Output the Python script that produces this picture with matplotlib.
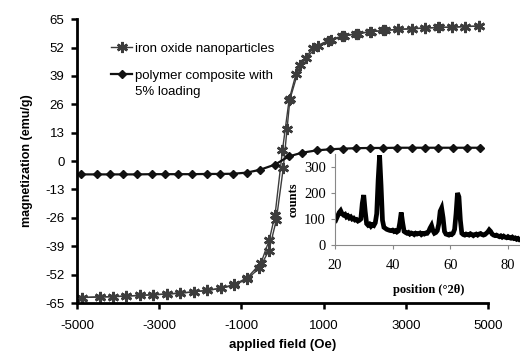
import numpy as np
import matplotlib
import matplotlib.pyplot as plt

matplotlib.use("agg")
plt.rcParams["font.family"] = "Liberation Sans"
plt.rcParams["axes.unicode_minus"] = False

# iron oxide nanoparticles, descending branch (Oe, emu/g)
field_down = [4780, 4450, 4120, 3800, 3470, 3140, 2820, 2490, 2160, 1830, 1500, 1180,
              860, 560, 330, 160, 0, -180, -320, -520, -860, -1180, -1500, -1830,
              -2160, -2490, -2820, -3140, -3470, -3800, -4120, -4450, -4880]
mag_down = [61.8, 61.6, 61.3, 61.2, 60.9, 60.6, 60.3, 59.8, 59.2, 58.4, 57.2, 55.4,
            52.5, 47.0, 40.0, 28.0, 5.0, -24.5, -36.0, -46.5, -53.5, -56.5, -58.2, -59.2,
            -59.9, -60.4, -60.9, -61.2, -61.5, -61.8, -62.1, -62.2, -62.5]

# iron oxide nanoparticles, ascending branch
field_up = [-4880, -4450, -4120, -3800, -3470, -3140, -2820, -2490, -2160, -1830, -1500,
            -1180, -860, -560, -330, -150, 20, 110, 180, 430, 750, 1110, 1440, 1800, 2130,
            2450, 2820, 3140, 3470, 3790, 4120, 4440, 4780]
mag_up = [-62.5, -62.2, -62.1, -61.8, -61.5, -61.2, -60.9, -60.5, -59.9, -59.2, -58.3,
          -56.9, -54.0, -49.0, -41.0, -27.0, -3.0, 14.5, 28.2, 44.2, 51.9, 55.2, 57.2, 58.4,
          59.2, 59.8, 60.3, 60.6, 60.9, 61.2, 61.3, 61.6, 61.8]

# polymer composite with 5% loading
field_poly = [-4890, -4520, -4200, -3870, -3530, -3180, -2860, -2530, -2190, -1840, -1520,
              -1200, -870, -550, -180, 150, 470, 830, 1160, 1480, 1800, 2130, 2450, 2790,
              3140, 3470, 3790, 4140, 4480, 4800]
mag_poly = [-6.1, -6.1, -6.1, -6.1, -6.1, -6.0, -6.0, -6.0, -6.0, -5.9, -5.9, -5.8, -5.3,
            -4.0, -1.6, 2.1, 3.8, 4.9, 5.4, 5.7, 5.9, 6.0, 6.0, 6.1, 6.1, 6.1, 6.1, 6.1,
            6.1, 6.1]

# XRD inset, counts every 0.5 deg from 20 to 85 (deg 2theta)
two_theta = np.arange(20.0, 85.01, 0.5)
counts = [108, 100, 112, 125, 132, 120, 115, 118, 108, 112, 104, 108, 100, 103, 96, 98,
          92, 95, 100, 160, 192, 130, 82, 76, 80, 72, 78, 75, 85, 120, 250, 345, 230, 95,
          68, 64, 60, 58, 56, 55, 57, 52, 55, 50, 54, 85, 125, 85, 52, 48, 45, 48, 42, 46,
          44, 40, 45, 42, 44, 46, 40, 44, 42, 46, 45, 52, 65, 75, 55, 45, 48, 55, 80, 130,
          142, 105, 52, 42, 40, 38, 42, 40, 45, 60, 120, 200, 185, 95, 45, 40, 38, 42, 40,
          38, 43, 40, 36, 40, 42, 38, 42, 44, 40, 38, 40, 45, 50, 58, 52, 42, 38, 36, 38,
          35, 32, 35, 30, 34, 30, 28, 32, 28, 26, 30, 25, 27, 22, 25, 20, 22, 20]

fig = plt.figure(figsize=(5.2, 3.54), dpi=100, facecolor="white")
ax = fig.add_axes([0.148, 0.144, 0.7905, 0.802])

star = (6, 2, 0)
ax.plot(field_down, mag_down, color="#3c3c3c", lw=1.0, marker=star, ms=8, mew=1.8,
        label="iron oxide nanoparticles")
ax.plot(field_up, mag_up, color="#3c3c3c", lw=1.0, marker=star, ms=8, mew=1.8)
ax.plot(field_poly, mag_poly, color="#111111", lw=1.6, marker="D", ms=4.5,
        label="polymer composite with")

ax.set_xlim(-5000, 5000)
ax.set_ylim(-65, 65)
ax.set_xticks(np.arange(-5000, 5001, 2000))
ax.set_yticks(np.arange(-65, 66, 13))
for side in ("top", "right"):
    ax.spines[side].set_visible(False)
for side in ("left", "bottom"):
    ax.spines[side].set_linewidth(2)
ax.tick_params(direction="out", length=4, width=1.8, labelsize=9.5)
ax.tick_params(axis="x", pad=8)
ax.tick_params(axis="y", pad=5)
ax.set_xlabel("applied field (Oe)", fontsize=9.5, fontweight="bold", labelpad=5)
ax.set_ylabel("magnetization (emu/g)", fontsize=9, fontweight="bold", labelpad=9)

leg = ax.legend(loc="upper left", bbox_to_anchor=(0.07, 0.935), frameon=False, fontsize=9.5,
                handlelength=1.6, handletextpad=0.25, labelspacing=1.1, borderaxespad=0)

# inset
ins = fig.add_axes([0.644, 0.308, 0.3606, 0.257])
ins.set_facecolor("none")
ins.plot(two_theta, counts, color="black", lw=3.4, solid_joinstyle="miter")
ins.set_xlim(20, 85)
ins.set_ylim(0, 350)
ins.set_xticks([20, 40, 60, 80])
ins.set_yticks([0, 100, 200, 300])
for side in ("top", "right"):
    ins.spines[side].set_visible(False)
for side in ("left", "bottom"):
    ins.spines[side].set_color("#888888")
    ins.spines[side].set_linewidth(0.8)
ins.tick_params(direction="out", length=3, color="#888888", labelsize=10.5)
ins.tick_params(axis="x", pad=7)
for lab in ins.get_xticklabels() + ins.get_yticklabels():
    lab.set_fontfamily("Liberation Serif")
ins.set_xlabel("position (\u00b02\u03b8)", fontsize=9, fontweight="bold",
               family="Liberation Serif", labelpad=9)
ins.set_ylabel("counts", fontsize=9, fontweight="bold", family="Liberation Serif",
               labelpad=3)

# second line of the polymer label sits under the first, as in the original
fig.canvas.draw()
bb = leg.get_texts()[1].get_window_extent()
fig.text(bb.x0 / fig.bbox.width, (bb.y0 - 4) / fig.bbox.height, "5% loading",
         ha="left", va="top", fontsize=9.5)

fig.savefig("out.png", dpi=100)
